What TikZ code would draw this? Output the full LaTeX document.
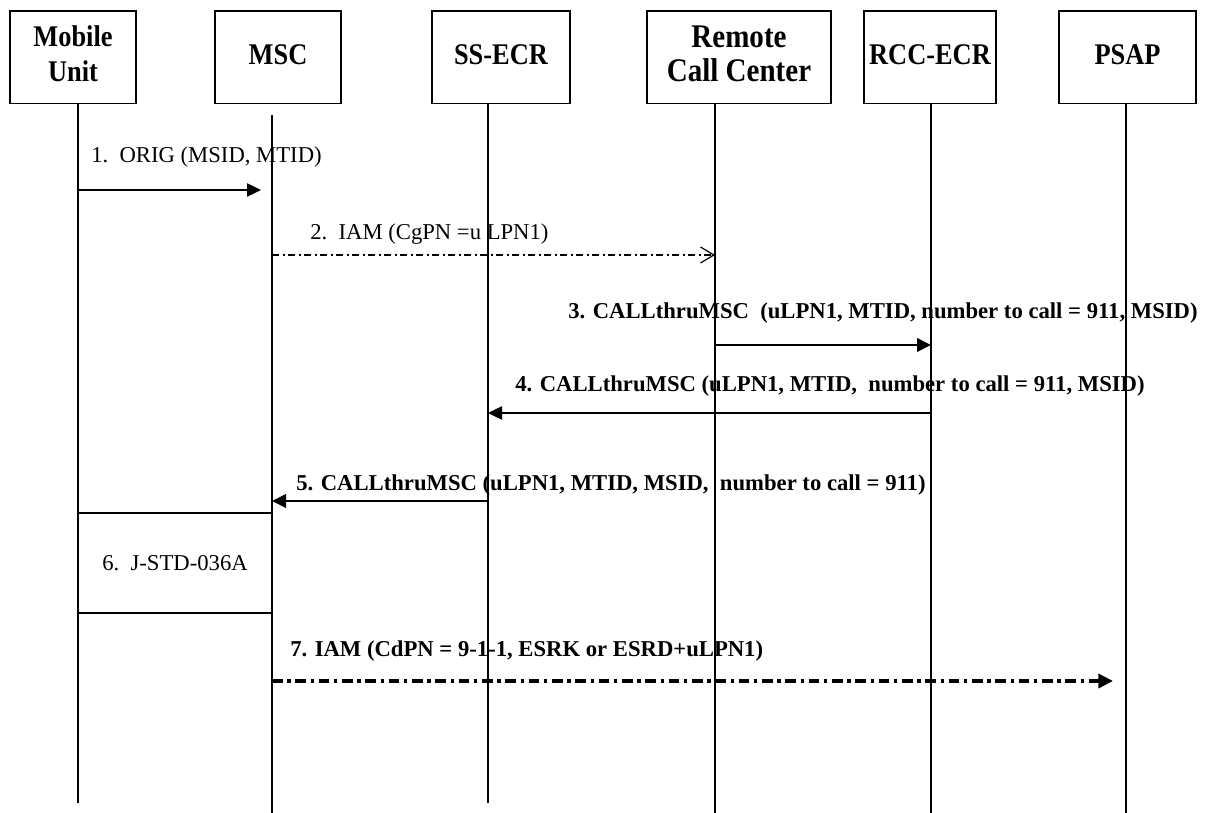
\documentclass[tikz,border=0pt]{standalone}
\usepackage{fontspec}
\setmainfont{Liberation Serif}
\usetikzlibrary{arrows.meta}
\newcommand\hdtext[2]{\scalebox{#1}[1]{\begin{tabular}{@{}c@{}}#2\end{tabular}}}
\begin{document}
\begin{tikzpicture}[x=0.75pt,y=-0.75pt,
  hdr/.style={draw, line width=1pt, minimum height=69.5pt, inner sep=0pt,
    font=\fontsize{22.5}{26}\selectfont\bfseries, align=center},
  life/.style={line width=1pt},
  lbl/.style={anchor=base west, inner sep=0pt, font=\fontsize{17}{20}\selectfont},
  blbl/.style={anchor=base west, inner sep=0pt, font=\fontsize{17}{20}\selectfont\bfseries},
  msg/.style={line width=1pt, -{Triangle[length=10.5pt,width=10pt]}},
  bmsg/.style={line width=2pt, -{Triangle[length=10.5pt,width=10pt]}},
  dmsg/.style={line width=0.9pt, dash pattern=on 5.5pt off 2.5pt on 1.5pt off 2.5pt,
    -{Straight Barb[length=10pt,width=12pt,line width=0.9pt]}},
  dbmsg/.style={line width=2.6pt, dash pattern=on 8pt off 3.5pt on 2.5pt off 3.5pt,
    -{Triangle[length=11pt,width=10.5pt]}},
  procbox/.style={draw, line width=1.4pt, inner sep=0pt, font=\fontsize{17}{20}\selectfont},
]
\useasboundingbox (0,0) rectangle (1218,813);

% headers
\node[hdr, minimum width=94.5pt] (mu) at (73,57.3) {\hdtext{0.88}{Mobile\\Unit}};
\node[hdr, minimum width=94.5pt] (msc) at (278,57.3) {\hdtext{0.88}{MSC}};
\node[hdr, minimum width=103.5pt] (ss) at (501,57.3) {\hdtext{0.88}{SS-ECR}};
\node[hdr, minimum width=138pt, font=\fontsize{24.75}{25.5}\selectfont\bfseries] (rc) at (739,57.3) {\hdtext{0.88}{Remote\\Call Center}};
\node[hdr, minimum width=99pt] (re) at (930,57.3) {\hdtext{0.88}{RCC-ECR}};
\node[hdr, minimum width=102.75pt] (ps) at (1127.5,57.3) {\hdtext{0.88}{PSAP}};

% lifelines
\coordinate (mu-e) at (78,803);
\coordinate (msc-t) at (272,115);
\coordinate (msc-e) at (272,813);
\coordinate (ss-e) at (488,803);
\coordinate (rc-e) at (715,813);
\coordinate (re-e) at (931,813);
\coordinate (ps-e) at (1126,813);
\draw[life] (mu.south -| mu-e) -- (mu-e);
\draw[life] (msc-t) -- (msc-e);
\draw[life] (ss.south -| ss-e) -- (ss-e);
\draw[life] (rc.south -| rc-e) -- (rc-e);
\draw[life] (re.south -| re-e) -- (re-e);
\draw[life] (ps.south -| ps-e) -- (ps-e);

% message end points
\coordinate (m1a) at (78,190);   \coordinate (m1b) at (261,190);
\coordinate (m2a) at (272,255);  \coordinate (m2b) at (715,255);
\coordinate (m3a) at (715,345);  \coordinate (m3b) at (931,345);
\coordinate (m4a) at (931,413);  \coordinate (m4b) at (488,413);
\coordinate (m5a) at (488,501);  \coordinate (m5b) at (272,501);
\coordinate (m7a) at (272,681);  \coordinate (m7b) at (1113,681);

% messages
\node[lbl] (l1) at (91,163) {1.\ \ ORIG (MSID, MTID)};
\draw[msg] (m1a) -- (m1b);

\node[lbl] (l2) at (310,240) {2.\ \ IAM (CgPN =u LPN1)};
\draw[dmsg] (m2a) -- (m2b);

\node[blbl] (l3) at (568,318) {3. CALLthruMSC\ \ (uLPN1, MTID, number to call = 911, MSID)};
\draw[bmsg] (m3a) -- (m3b);

\node[blbl] (l4) at (515,391) {4. CALLthruMSC (uLPN1, MTID,\ \ number to call = 911, MSID)};
\draw[msg] (m4a) -- (m4b);

\node[blbl] (l5) at (296,490) {5. CALLthruMSC (uLPN1, MTID, MSID,\ \ number to call = 911)};
\draw[bmsg] (m5a) -- (m5b);

\node[procbox, minimum width=145.5pt, minimum height=75pt] (b6) at (175,563) {6.\ \ J-STD-036A};

\node[blbl] (l7) at (290,656) {7. IAM (CdPN = 9-1-1, ESRK or ESRD+uLPN1)};
\draw[dbmsg] (m7a) -- (m7b);
\end{tikzpicture}
\end{document}
